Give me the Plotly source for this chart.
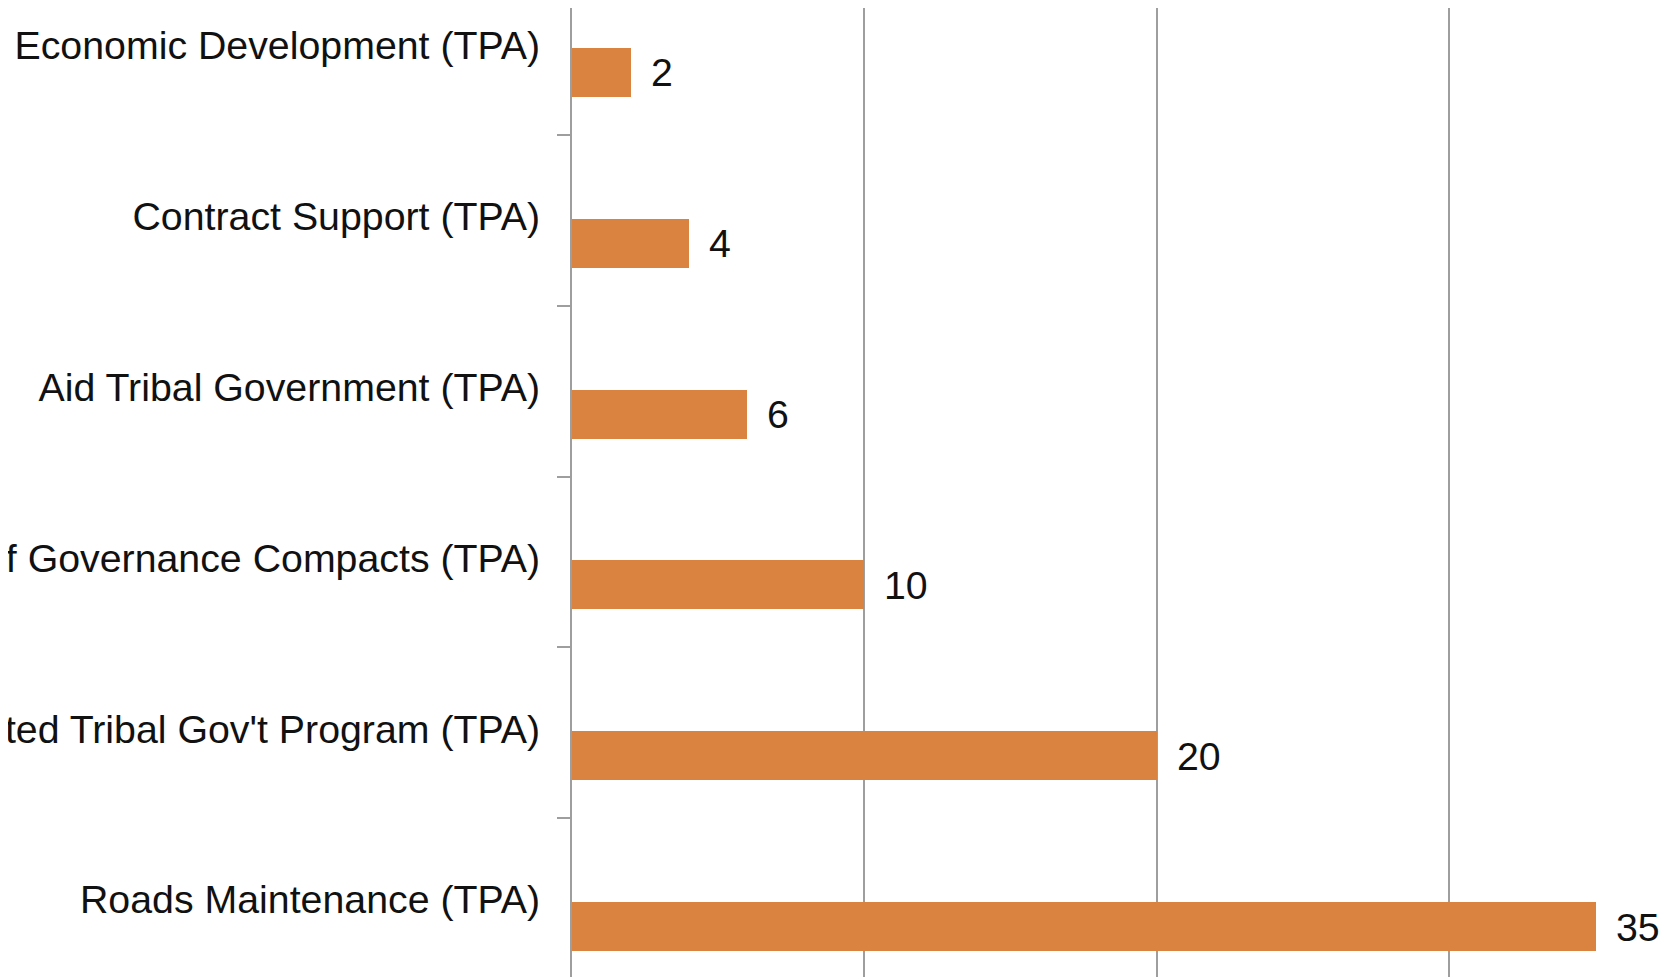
import plotly.graph_objects as go

categories = [
    "Economic Development (TPA)",
    "Contract Support (TPA)",
    "Aid Tribal Government (TPA)",
    "Self Governance Compacts (TPA)",
    "Consolidated Tribal Gov't Program (TPA)",
    "Roads Maintenance (TPA)",
]
values = [2, 4, 6, 10, 20, 35]

BAR_COLOR = "#DA823F"
GRID_COLOR = "#9E9E9E"
TEXT_COLOR = "#111111"
FONT = "Liberation Sans, Arial, sans-serif"
FS = 39.3

bar_offset = -0.01
bar_width = 0.287

fig = go.Figure()
fig.add_trace(go.Bar(
    x=values,
    y=categories,
    orientation="h",
    marker=dict(color=BAR_COLOR, line=dict(width=0)),
    offset=bar_offset,
    width=bar_width,
    showlegend=False,
    hoverinfo="x+y",
))

for i, (c, v) in enumerate(zip(categories, values)):
    fig.add_annotation(
        x=v, y=i + bar_offset + bar_width / 2,
        xref="x", yref="y",
        text=str(v), showarrow=False,
        xanchor="left", yanchor="middle",
        xshift=18,
        font=dict(family=FONT, size=FS, color=TEXT_COLOR),
    )

fig.update_layout(
    template="none",
    width=1676, height=977,
    margin=dict(l=564, r=0, t=0, b=0, pad=0),
    paper_bgcolor="white",
    plot_bgcolor="white",
    font=dict(family=FONT, size=FS, color=TEXT_COLOR),
    bargap=0,
)

fig.update_xaxes(
    range=[0, 38.02],
    showgrid=True, gridcolor=GRID_COLOR, gridwidth=2,
    tick0=0, dtick=10,
    showticklabels=False, ticks="",
    zeroline=False, showline=False,
    automargin=False, fixedrange=True,
)

fig.update_yaxes(
    type="category",
    categoryorder="array", categoryarray=categories,
    range=[5.476, -0.2436],
    tickson="boundaries",
    ticks="outside", ticklen=13, tickwidth=2, tickcolor=GRID_COLOR,
    showline=True, linecolor=GRID_COLOR, linewidth=2,
    showgrid=False, zeroline=False,
    tickfont=dict(family=FONT, size=FS, color=TEXT_COLOR),
    ticklabelstandoff=22,
    ticklabelshift=4,
    automargin=False, fixedrange=True,
)

fig.write_html("out.html")
